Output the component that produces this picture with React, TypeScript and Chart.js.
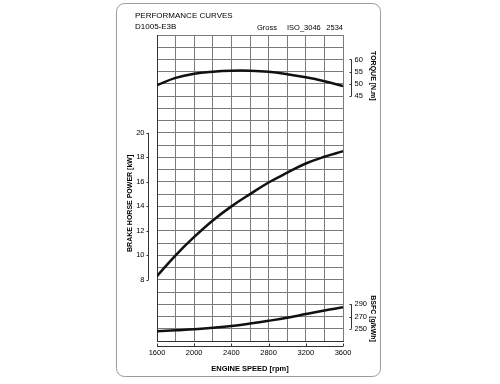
import React, { useEffect, useRef } from "react";
import { Chart, registerables } from "chart.js";

Chart.register(...registerables);

// ---- data ----
const rpm = [1600, 1800, 2000, 2200, 2400, 2600, 2800, 3000, 3200, 3400, 3600];
const torque = [49.5, 52.5, 54.2, 55.0, 55.4, 55.4, 55.0, 54.0, 52.7, 51.1, 49.2];
const power = [8.3, 10.0, 11.5, 12.85, 14.0, 15.0, 15.95, 16.75, 17.5, 18.05, 18.5];
const bsfc = [246, 247.5, 249, 251.5, 254.5, 258.5, 263, 268, 274, 280, 285];

const xTickLabels = [1600, 2000, 2400, 2800, 3200, 3600];
const powerTicks = [8, 10, 12, 14, 16, 18, 20];
const torqueTicks = [45, 50, 55, 60];
const bsfcTicks = [250, 270, 290];

const titleLines = ["PERFORMANCE CURVES", "D1005-E3B"];
const headerRight = ["Gross", "ISO_3046", "2534"];
const xTitle = "ENGINE SPEED [rpm]";
const powerTitle = "BRAKE HORSE POWER [kW]";
const torqueTitle = "TORQUE [N.m]";
const bsfcTitle = "BSFC [g/kWh]";

const FONT = "'Liberation Sans', Arial, sans-serif";

const decorPlugin = {
  id: "decor",
  beforeDraw(chart: any) {
    const ctx = chart.ctx;
    ctx.save();
    ctx.fillStyle = "#ffffff";
    ctx.fillRect(0, 0, chart.width, chart.height);
    ctx.strokeStyle = "#9a9a9a";
    ctx.lineWidth = 1;
    ctx.beginPath();
    (ctx as any).roundRect(116.5, 3.5, 264, 373, 8);
    ctx.stroke();
    ctx.restore();
  },
  afterDraw(chart: any) {
    const ctx = chart.ctx;
    const a = chart.chartArea;
    const sx = chart.scales.x;
    const sy = chart.scales.y;
    const sT = chart.scales.yT;
    const sB = chart.scales.yB;
    ctx.save();
    ctx.fillStyle = "#000";
    ctx.strokeStyle = "#333";
    ctx.lineWidth = 1;

    // header
    ctx.font = `8px ${FONT}`;
    ctx.textAlign = "left";
    ctx.textBaseline = "middle";
    ctx.fillText(titleLines[0], 135, 16);
    ctx.fillText(titleLines[1], 135, 27);
    ctx.font = `7.5px ${FONT}`;
    ctx.fillText(headerRight[0], 257, 28);
    ctx.fillText(headerRight[1], 287, 28);
    ctx.textAlign = "right";
    ctx.fillText(headerRight[2], a.right, 28);

    // power axis (left)
    const lx = Math.round(a.left - 9) + 0.5;
    ctx.beginPath();
    ctx.moveTo(lx, sy.getPixelForValue(powerTicks[powerTicks.length - 1]));
    ctx.lineTo(lx, sy.getPixelForValue(powerTicks[0]));
    powerTicks.forEach((v) => {
      const py = Math.round(sy.getPixelForValue(v)) + 0.5;
      ctx.moveTo(lx, py);
      ctx.lineTo(lx - 2, py);
    });
    ctx.stroke();
    ctx.font = `7.5px ${FONT}`;
    ctx.textAlign = "right";
    ctx.textBaseline = "middle";
    powerTicks.forEach((v) => {
      ctx.fillText(String(v), lx - 4, sy.getPixelForValue(v));
    });
    ctx.save();
    const pc = (sy.getPixelForValue(powerTicks[0]) + sy.getPixelForValue(powerTicks[powerTicks.length - 1])) / 2 - 3;
    ctx.translate(130, pc);
    ctx.rotate(-Math.PI / 2);
    ctx.font = `bold 7px ${FONT}`;
    ctx.textAlign = "center";
    ctx.fillText(powerTitle, 0, 0);
    ctx.restore();

    // x axis (bottom)
    const by = Math.round(a.bottom + 5) + 0.5;
    ctx.beginPath();
    ctx.moveTo(sx.getPixelForValue(xTickLabels[0]), by);
    ctx.lineTo(sx.getPixelForValue(xTickLabels[xTickLabels.length - 1]), by);
    xTickLabels.forEach((v) => {
      const px = Math.round(sx.getPixelForValue(v)) + 0.5;
      ctx.moveTo(px, by);
      ctx.lineTo(px, by - 3);
    });
    ctx.stroke();
    ctx.font = `7.5px ${FONT}`;
    ctx.textAlign = "center";
    ctx.textBaseline = "middle";
    xTickLabels.forEach((v) => {
      ctx.fillText(String(v), sx.getPixelForValue(v), by + 6);
    });
    ctx.font = `bold 7.5px ${FONT}`;
    ctx.fillText(xTitle, (a.left + a.right) / 2, by + 22);

    // right axes
    const drawRight = (scale: any, ticks: number[], title: string, shift: number) => {
      const rx = Math.round(a.right + 8) + 0.5;
      ctx.beginPath();
      ctx.moveTo(rx, scale.getPixelForValue(ticks[ticks.length - 1]));
      ctx.lineTo(rx, scale.getPixelForValue(ticks[0]));
      ticks.forEach((v) => {
        const py = Math.round(scale.getPixelForValue(v)) + 0.5;
        ctx.moveTo(rx, py);
        ctx.lineTo(rx - 2, py);
      });
      ctx.stroke();
      ctx.font = `7.5px ${FONT}`;
      ctx.textAlign = "left";
      ctx.textBaseline = "middle";
      ticks.forEach((v) => {
        ctx.fillText(String(v), rx + 3, scale.getPixelForValue(v));
      });
      ctx.save();
      const c = (scale.getPixelForValue(ticks[0]) + scale.getPixelForValue(ticks[ticks.length - 1])) / 2 + shift;
      ctx.translate(372.5, c);
      ctx.rotate(Math.PI / 2);
      ctx.font = `bold 7px ${FONT}`;
      ctx.textAlign = "center";
      ctx.fillText(title, 0, 0);
      ctx.restore();
    };
    drawRight(sT, torqueTicks, torqueTitle, -2);
    drawRight(sB, bsfcTicks, bsfcTitle, 2);

    ctx.restore();
  },
};

export default function App() {
  const ref = useRef<HTMLCanvasElement>(null);
  useEffect(() => {
    if (!ref.current) return;
    const mk = (vals: number[]) => rpm.map((x, i) => ({ x, y: vals[i] }));
    const lineStyle = {
      borderColor: "#111",
      borderWidth: 2.5,
      pointRadius: 0,
      fill: false,
      tension: 0.4,
    };
    const chart = new Chart(ref.current, {
      type: "line",
      data: {
        datasets: [
          { label: "Torque", data: mk(torque), yAxisID: "yT", ...lineStyle },
          { label: "Power", data: mk(power), yAxisID: "y", ...lineStyle },
          { label: "BSFC", data: mk(bsfc), yAxisID: "yB", ...lineStyle },
        ],
      },
      options: {
        animation: false,
        responsive: false,
        devicePixelRatio: 1,
        layout: { padding: { left: 157, right: 157, top: 35, bottom: 43 } },
        plugins: { legend: { display: false }, tooltip: { enabled: false } },
        scales: {
          x: {
            type: "linear",
            min: 1600,
            max: 3600,
            ticks: { display: false, stepSize: 200 },
            grid: { color: "#7a7a7a", lineWidth: 1, drawTicks: false },
            border: { display: true, color: "#333" },
            afterFit: (s: any) => { s.height = 0; },
          },
          y: {
            type: "linear",
            position: "left",
            min: 3,
            max: 28,
            ticks: { display: false, stepSize: 1 },
            grid: { color: "#7a7a7a", lineWidth: 1, drawTicks: false },
            border: { display: true, color: "#333" },
            afterFit: (s: any) => { s.width = 0; },
          },
          yT: { type: "linear", display: false, min: -55, max: 70 },
          yB: { type: "linear", display: false, min: 230, max: 730 },
        },
      },
      plugins: [decorPlugin],
    });
    return () => chart.destroy();
  }, []);
  return (
    <div style={{ position: "absolute", left: 0, top: 0, width: 500, height: 384, background: "#fff" }}>
      <canvas ref={ref} width={500} height={384} />
    </div>
  );
}
